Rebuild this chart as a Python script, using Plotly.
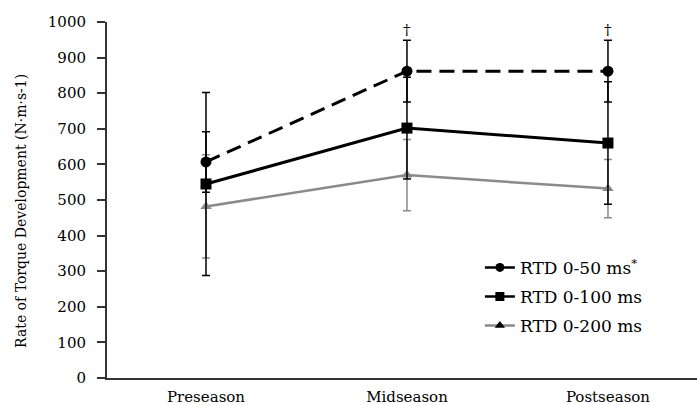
import plotly.graph_objects as go

categories = ["Preseason", "Midseason", "Postseason"]
rtd50 = [607, 862, 862]
rtd50_err = [85, 87, 87]
rtd100 = [545, 702, 660]
rtd100_err = [257, 143, 172]
rtd200 = [482, 570, 532]
rtd200_err = [145, 100, 82]
dagger_cats = ["Midseason", "Postseason"]
dagger_y = [978, 978]
y_ticks = list(range(0, 1001, 100))

FONT = "DejaVu Serif"
GRAY = "#8a8a8a"

fig = go.Figure()

fig.add_trace(go.Scatter(
    x=categories, y=rtd200, mode="lines+markers", showlegend=False,
    line=dict(color=GRAY, width=2.5),
    marker=dict(symbol="triangle-up", size=10, color=GRAY),
    error_y=dict(type="data", array=rtd200_err, color=GRAY, thickness=1.5, width=4),
))
fig.add_trace(go.Scatter(
    x=categories, y=rtd100, mode="lines+markers", showlegend=False,
    line=dict(color="black", width=3),
    marker=dict(symbol="square", size=11, color="black"),
    error_y=dict(type="data", array=rtd100_err, color="black", thickness=1.5, width=4),
))
fig.add_trace(go.Scatter(
    x=categories, y=rtd50, mode="lines+markers", showlegend=False,
    line=dict(color="black", width=3, dash="15px,8px"),
    marker=dict(symbol="circle", size=11, color="black"),
    error_y=dict(type="data", array=rtd50_err, color="black", thickness=1.5, width=4),
))

# legend entries (solid line samples as in the original)
fig.add_trace(go.Scatter(x=[None], y=[None], mode="lines+markers", name="RTD 0-50 ms<sup>*</sup>",
                         legendgroup="a", line=dict(color="black", width=2.5),
                         marker=dict(symbol="circle", size=9, color="black")))
fig.add_trace(go.Scatter(x=[None], y=[None], mode="lines+markers", name="RTD 0-100 ms",
                         legendgroup="b", line=dict(color="black", width=2.5),
                         marker=dict(symbol="square", size=9, color="black")))
fig.add_trace(go.Scatter(x=[None], y=[None], mode="lines+markers", name="RTD 0-200 ms",
                         legendgroup="c", line=dict(color=GRAY, width=2.5),
                         marker=dict(symbol="triangle-up", size=9, color="black")))

for c, yv in zip(dagger_cats, dagger_y):
    fig.add_annotation(x=c, y=yv, xref="x", yref="y", text="†", showarrow=False,
                       font=dict(family=FONT, size=15, color="black"))

fig.add_annotation(x=-0.147, y=0.47, xref="paper", yref="paper",
                   text="Rate of Torque Development (N·m·s-1)", textangle=-90,
                   showarrow=False, xanchor="center", yanchor="middle",
                   font=dict(family=FONT, size=14, color="black"))

fig.update_layout(
    width=697, height=405,
    margin=dict(l=107, r=0, t=22, b=27),
    paper_bgcolor="white", plot_bgcolor="white",
    font=dict(family=FONT, size=15, color="black"),
    legend=dict(x=0.632, y=0.36, xanchor="left", yanchor="top",
                font=dict(family=FONT, size=17), tracegroupgap=4,
                bgcolor="rgba(0,0,0,0)"),
)
fig.update_xaxes(
    type="category", range=[-0.4925, 2.443],
    showline=True, linecolor="#333", linewidth=2,
    ticks="", showgrid=False, automargin=False,
    ticklabelstandoff=4,
    tickfont=dict(family=FONT, size=15),
)
fig.update_yaxes(
    range=[0, 1000], tickvals=y_ticks, showline=True, linecolor="#333", linewidth=2,
    ticks="outside", ticklen=8, tickwidth=1.5, tickcolor="#333",
    showgrid=False, zeroline=False, automargin=False,
    ticklabelstandoff=8,
    tickfont=dict(family=FONT, size=15),
)

fig.write_html("out.html", config={"displayModeBar": False},
               post_script="document.body.style.margin='0';document.body.style.overflow='hidden';")
